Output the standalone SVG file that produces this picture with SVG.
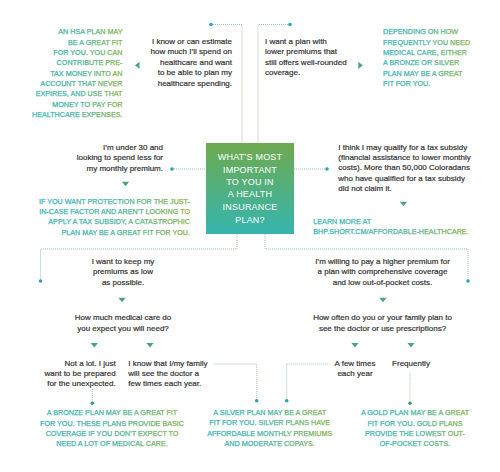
<svg xmlns="http://www.w3.org/2000/svg" width="500" height="472" viewBox="0 0 500 472">
<defs>
<linearGradient id="boxg" x1="0" y1="0" x2="0" y2="1">
<stop offset="0" stop-color="#6eaa4f"/>
<stop offset="1" stop-color="#36b5af"/>
</linearGradient>
<linearGradient id="tg" x1="0" y1="0" x2="1" y2="0">
<stop offset="0" stop-color="#3ab5b8"/>
<stop offset="0.5" stop-color="#4bb5a2"/>
<stop offset="1" stop-color="#86b34c"/>
</linearGradient>
<path id="tdown" d="M-3.6,-2.2 L3.6,-2.2 L0,2.3 Z"/>
<style>
.body{font-family:"Liberation Sans",Arial,sans-serif;font-size:8px;fill:#333333;stroke:#333333;stroke-width:0.2px}
.caps{font-family:"Liberation Sans",Arial,sans-serif;font-size:7.2px;fill:url(#tg);stroke:url(#tg);stroke-width:0.25px}
.hd{font-family:"Liberation Sans",Arial,sans-serif;font-size:9px;fill:#ffffff;text-anchor:middle;letter-spacing:0.2px}
.r{text-anchor:end}
.m{text-anchor:middle}
.con{fill:none;stroke:#93c09f;stroke-width:0.9;stroke-dasharray:1 1}
.dt{fill:#2ba6ae}
.dg{fill:#3d9e70}
.tri{fill:#4aa574}
</style>
</defs>
<rect width="500" height="472" fill="#ffffff"/>

<g id="connectors">
<polyline class="con" points="211,24.5 242,24.5 242,143"/>
<polyline class="con" points="290,24.5 258,24.5 258,143"/>
<line class="con" x1="172" y1="169" x2="206" y2="169"/>
<line class="con" x1="294" y1="169" x2="327" y2="169"/>
<polyline class="con" points="237,234 237,249 40.5,249 40.5,281"/>
<polyline class="con" points="265,234 265,249 468,249 468,281"/>
<polyline class="con" points="213.5,364 256.7,364 256.7,400.7"/>
<polyline class="con" points="328.3,364 286.7,364 286.7,400.7"/>
<line class="con" x1="92.3" y1="389" x2="92.3" y2="403.3"/>
<line class="con" x1="410" y1="372.7" x2="410" y2="403.3"/>
<circle class="dt" cx="211" cy="24.5" r="1.8"/>
<circle class="dt" cx="290" cy="24.5" r="1.8"/>
<circle class="dt" cx="172" cy="169" r="1.8"/>
<circle class="dt" cx="327" cy="169" r="1.8"/>
<circle class="dt" cx="40.5" cy="281" r="1.8"/>
<circle class="dt" cx="468" cy="281" r="1.8"/>
<circle class="dt" cx="256.7" cy="400.7" r="1.8"/>
<circle class="dt" cx="286.7" cy="400.7" r="1.8"/>
<circle class="dg" cx="92.3" cy="403.3" r="1.8"/>
<circle class="dg" cx="410" cy="403.3" r="1.8"/>
<polygon class="tri" points="139.5,61.7 139.5,69 135,65.3"/>
<polygon class="tri" points="358.3,61.7 358.3,69 362.8,65.3"/>
<use class="tri" href="#tdown" x="125.5" y="184"/>
<use class="tri" href="#tdown" x="403.5" y="204"/>
<use class="tri" href="#tdown" x="122" y="300"/>
<use class="tri" href="#tdown" x="94.3" y="345.3"/>
<use class="tri" href="#tdown" x="150" y="345.3"/>
<use class="tri" href="#tdown" x="383" y="300"/>
<use class="tri" href="#tdown" x="355" y="345.3"/>
<use class="tri" href="#tdown" x="411" y="345.3"/>
</g>

<g id="center">
<rect x="206" y="143" width="88" height="91" fill="url(#boxg)"/>
<text class="hd"><tspan x="250" y="160">WHAT’S MOST</tspan><tspan x="250" y="172.5">IMPORTANT</tspan><tspan x="250" y="185">TO YOU IN</tspan><tspan x="250" y="197.3">A HEALTH</tspan><tspan x="250" y="209.8">INSURANCE</tspan><tspan x="250" y="222.5">PLAN?</tspan></text>
</g>

<g id="hsa-result">
<text class="caps r"><tspan x="122.5" y="34.3">AN HSA PLAN MAY</tspan><tspan x="122.5" y="44.65">BE A GREAT FIT</tspan><tspan x="122.5" y="55">FOR YOU. YOU CAN</tspan><tspan x="122.5" y="65.35">CONTRIBUTE PRE-</tspan><tspan x="122.5" y="75.7">TAX MONEY INTO AN</tspan><tspan x="122.5" y="86.05">ACCOUNT THAT NEVER</tspan><tspan x="122.5" y="96.4">EXPIRES, AND USE THAT</tspan><tspan x="122.5" y="106.75">MONEY TO PAY FOR</tspan><tspan x="122.5" y="117.1">HEALTHCARE EXPENSES.</tspan></text>
</g>

<g id="hsa-choice">
<text class="body r"><tspan x="232" y="44.1">I know or can estimate</tspan><tspan x="232" y="54.45">how much I’ll spend on</tspan><tspan x="232" y="64.8">healthcare and want</tspan><tspan x="232" y="75.15">to be able to plan my</tspan><tspan x="232" y="85.5">healthcare spending.</tspan></text>
</g>

<g id="lower-premium-choice">
<text class="body"><tspan x="265" y="44.1">I want a plan with</tspan><tspan x="265" y="54.45">lower premiums that</tspan><tspan x="265" y="64.8">still offers well-rounded</tspan><tspan x="265" y="75.15">coverage.</tspan></text>
</g>

<g id="bronze-silver-result">
<text class="caps"><tspan x="383" y="34.3">DEPENDING ON HOW</tspan><tspan x="383" y="44.65">FREQUENTLY YOU NEED</tspan><tspan x="383" y="55">MEDICAL CARE, EITHER</tspan><tspan x="383" y="65.35">A BRONZE OR SILVER</tspan><tspan x="383" y="75.7">PLAN MAY BE A GREAT</tspan><tspan x="383" y="86.05">FIT FOR YOU.</tspan></text>
</g>

<g id="under30-choice">
<text class="body r"><tspan x="163" y="149.5">I’m under 30 and</tspan><tspan x="163" y="160">looking to spend less for</tspan><tspan x="163" y="170.5">my monthly premium.</tspan></text>
</g>

<g id="catastrophic-result">
<text class="caps r"><tspan x="190" y="203.6">IF YOU WANT PROTECTION FOR THE JUST-</tspan><tspan x="190" y="213.9">IN-CASE FACTOR AND AREN’T LOOKING TO</tspan><tspan x="190" y="224.3">APPLY A TAX SUBSIDY, A CATASTROPHIC</tspan><tspan x="190" y="234.6">PLAN MAY BE A GREAT FIT FOR YOU.</tspan></text>
</g>

<g id="subsidy-choice">
<text class="body"><tspan x="338.3" y="149.5">I think I may qualify for a tax subsidy</tspan><tspan x="338.3" y="159.9">(financial assistance to lower monthly</tspan><tspan x="338.3" y="170.3">costs). More than 50,000 Coloradans</tspan><tspan x="338.3" y="180.7">who have qualified for a tax subsidy</tspan><tspan x="338.3" y="191.1">did not claim it.</tspan></text>
</g>

<g id="subsidy-result">
<text class="caps"><tspan x="313.3" y="223.6">LEARN MORE AT</tspan><tspan x="313.3" y="233.9">BHP.SHORT.CM/AFFORDABLE-HEALTHCARE.</tspan></text>
</g>

<g id="low-premium-choice">
<text class="body m"><tspan x="123" y="263.8">I want to keep my</tspan><tspan x="123" y="274.3">premiums as low</tspan><tspan x="123" y="284.8">as possible.</tspan></text>
</g>

<g id="how-much-question">
<text class="body m"><tspan x="123" y="320.1">How much medical care do</tspan><tspan x="123" y="330.5">you expect you will need?</tspan></text>
</g>

<g id="not-a-lot">
<text class="body r"><tspan x="115.7" y="366.1">Not a lot. I just</tspan><tspan x="115.7" y="376.2">want to be prepared</tspan><tspan x="115.7" y="386.3">for the unexpected.</tspan></text>
</g>

<g id="few-times-family">
<text class="body"><tspan x="128.3" y="366.1">I know that I/my family</tspan><tspan x="128.3" y="376.2">will see the doctor a</tspan><tspan x="128.3" y="386.3">few times each year.</tspan></text>
</g>

<g id="high-premium-choice">
<text class="body m"><tspan x="382.5" y="263.8">I’m willing to pay a higher premium for</tspan><tspan x="382.5" y="274.3">a plan with comprehensive coverage</tspan><tspan x="382.5" y="284.8">and low out-of-pocket costs.</tspan></text>
</g>

<g id="how-often-question">
<text class="body m"><tspan x="382.5" y="320.1">How often do you or your family plan to</tspan><tspan x="382.5" y="330.5">see the doctor or use prescriptions?</tspan></text>
</g>

<g id="few-times">
<text class="body m"><tspan x="355" y="366.1">A few times</tspan><tspan x="355" y="376">each year</tspan></text>
</g>

<g id="frequently">
<text class="body m"><tspan x="411" y="366.1">Frequently</tspan></text>
</g>

<g id="bronze-result">
<text class="caps m"><tspan x="112" y="415.3">A BRONZE PLAN MAY BE A GREAT FIT</tspan><tspan x="112" y="425.6">FOR YOU. THESE PLANS PROVIDE BASIC</tspan><tspan x="112" y="436">COVERAGE IF YOU DON’T EXPECT TO</tspan><tspan x="112" y="446.3">NEED A LOT OF MEDICAL CARE.</tspan></text>
</g>

<g id="silver-result">
<text class="caps m"><tspan x="269.7" y="415">A SILVER PLAN MAY BE A GREAT</tspan><tspan x="269.7" y="425.3">FIT FOR YOU. SILVER PLANS HAVE</tspan><tspan x="269.7" y="435.6">AFFORDABLE MONTHLY PREMIUMS</tspan><tspan x="269.7" y="445.9">AND MODERATE COPAYS.</tspan></text>
</g>

<g id="gold-result">
<text class="caps m"><tspan x="415" y="415.3">A GOLD PLAN MAY BE A GREAT</tspan><tspan x="415" y="425.6">FIT FOR YOU. GOLD PLANS</tspan><tspan x="415" y="436">PROVIDE THE LOWEST OUT-</tspan><tspan x="415" y="446.3">OF-POCKET COSTS.</tspan></text>
</g>
</svg>
